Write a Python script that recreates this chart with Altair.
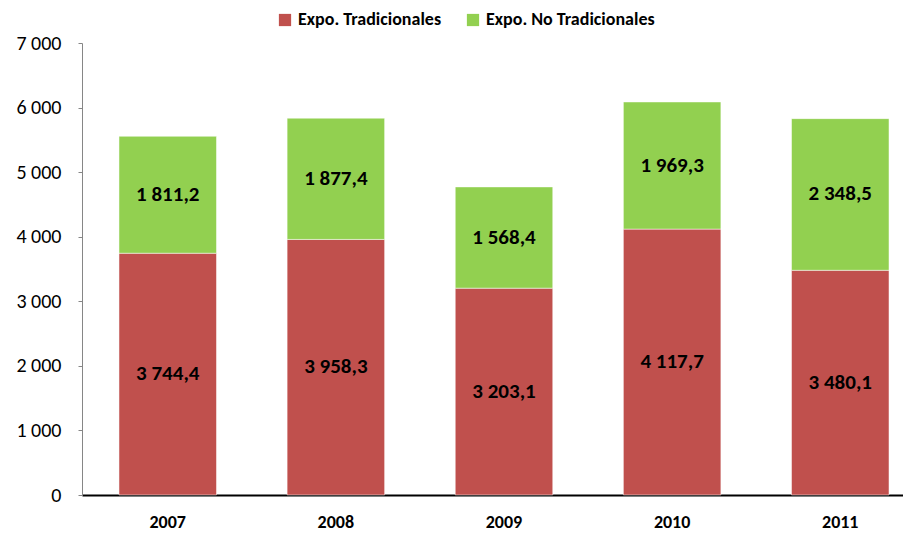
import altair as alt
import pandas as pd

years = ["2007", "2008", "2009", "2010", "2011"]
tradicionales = [3744.4, 3958.3, 3203.1, 4117.7, 3480.1]
no_tradicionales = [1811.2, 1877.4, 1568.4, 1969.3, 2348.5]
series = ["Expo. Tradicionales", "Expo. No Tradicionales"]
colors = ["#C0504D", "#92D050"]
y_ticks = [0, 1000, 2000, 3000, 4000, 5000, 6000, 7000]

rows = []
for i, y in enumerate(years):
    rows.append({"year": y, "serie": series[0], "idx": 0, "value": tradicionales[i]})
    rows.append({"year": y, "serie": series[1], "idx": 1, "value": no_tradicionales[i]})
df = pd.DataFrame(rows)

FONT = "Carlito, Lato, sans-serif"

base = alt.Chart(df).transform_stack(
    stack="value", groupby=["year"], as_=["y0", "y1"], sort=[alt.SortField("idx")]
).transform_calculate(mid="(datum.y0 + datum.y1) / 2")

xenc = alt.X(
    "year:N",
    title=None,
    scale=alt.Scale(paddingInner=0.42, paddingOuter=0.22, range=[0, 844]),
    axis=alt.Axis(
        labelAngle=0, ticks=False, domainColor="#000000", domainWidth=2,
        labelFontSize=18, labelFontWeight="bold", labelPadding=18,
        labelFont=FONT, labelColor="#000000",
    ),
)

bars = base.mark_bar(stroke="#ffffff", strokeWidth=0.5).encode(
    x=xenc,
    y=alt.Y(
        "y0:Q",
        title=None,
        scale=alt.Scale(domain=[0, 7000], nice=False),
        axis=alt.Axis(
            values=y_ticks, format=",d", grid=False, domainColor="#868686",
            tickColor="#868686", tickSize=4, labelPadding=17, labelFontSize=20,
            labelFont=FONT, labelColor="#000000",
        ),
    ),
    y2="y1:Q",
    color=alt.Color(
        "serie:N",
        scale=alt.Scale(domain=series, range=colors),
        legend=alt.Legend(
            title=None, orient="none", direction="horizontal", legendX=194, legendY=-32,
            symbolType="square", symbolSize=150, symbolStrokeWidth=0,
            labelFontSize=18, labelFontWeight="bold", labelFont=FONT, labelLimit=400,
            labelColor="#000000", columnPadding=22,
        ),
    ),
)

labels = base.mark_text(fontSize=21, fontWeight="bold", font=FONT, color="#000000").encode(
    x=alt.X("year:N"),
    y=alt.Y("mid:Q"),
    text=alt.Text("value:Q", format=",.1f"),
)

chart = (bars + labels).properties(
    width=821,
    height=452,
    autosize=alt.AutoSizeParams(type="none"),
    padding={"left": 74, "top": 35, "right": 0, "bottom": 36},
).configure_view(stroke=None)

chart.save(
    "out.html",
    embed_options={
        "renderer": "svg",
        "actions": False,
        "formatLocale": {"decimal": ",", "thousands": "\u00a0", "grouping": [3], "currency": ["", ""]},
    },
)
